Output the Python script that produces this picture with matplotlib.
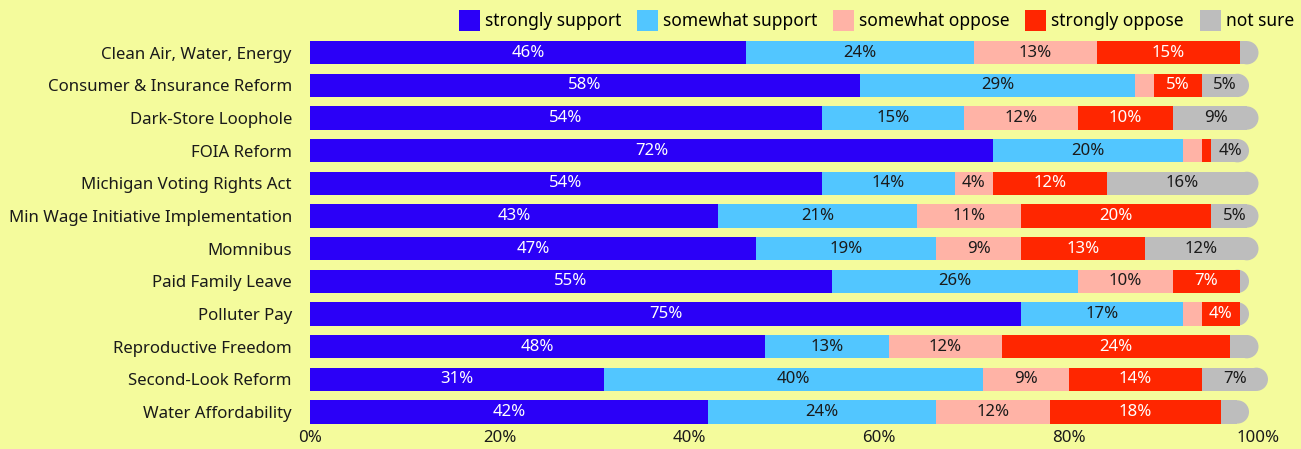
import numpy as np
import matplotlib
matplotlib.use('Agg')
import matplotlib.pyplot as plt
from matplotlib.patches import Ellipse

# ==============================================================================
# Support / opposition by policy, horizontal 100% stacked bars
# ==============================================================================

CATEGORIES = [
    'Clean Air, Water, Energy', 'Consumer & Insurance Reform', 'Dark-Store Loophole',
    'FOIA Reform', 'Michigan Voting Rights Act', 'Min Wage Initiative Implementation',
    'Momnibus', 'Paid Family Leave', 'Polluter Pay', 'Reproductive Freedom',
    'Second-Look Reform', 'Water Affordability',
]
SERIES = ['strongly support', 'somewhat support', 'somewhat oppose', 'strongly oppose', 'not sure']

STRONG_SUPPORT = [46, 58, 54, 72, 54, 43, 47, 55, 75, 48, 31, 42]
SOME_SUPPORT   = [24, 29, 15, 20, 14, 21, 19, 26, 17, 13, 40, 24]
SOME_OPPOSE    = [13,  2, 12,  2,  4, 11,  9, 10,  2, 12,  9, 12]
STRONG_OPPOSE  = [15,  5, 10,  1, 12, 20, 13,  7,  4, 24, 14, 18]
NOT_SURE       = [ 2,  5,  9,  4, 16,  5, 12,  1,  1,  3,  7,  3]

XTICKS = [0, 20, 40, 60, 80, 100]

COLORS = ['#2b00f7', '#52c6ff', '#ffb3a6', '#ff2600', '#bdbdbd']
TEXT_COLORS = ['white', '#1a1a1a', '#1a1a1a', 'white', '#1a1a1a']
BG = '#f4fb9c'
FONT = 'Noto Sans'
FS = 12.1

plt.rcParams['font.family'] = [FONT, 'DejaVu Sans']


def main():
    W, H, DPI = 1301, 449, 100
    fig = plt.figure(figsize=(W / DPI, H / DPI), dpi=DPI, facecolor=BG)
    ax_l, ax_r, ax_t, ax_b = 310, 1258.5, 36.4, 428.3
    ax = fig.add_axes([ax_l / W, 1 - ax_b / H, (ax_r - ax_l) / W, (ax_b - ax_t) / H])
    ax.set_facecolor(BG)

    data = np.array([STRONG_SUPPORT, SOME_SUPPORT, SOME_OPPOSE, STRONG_OPPOSE, NOT_SURE], dtype=float)
    y = np.arange(len(CATEGORIES))
    bar_h = 0.713
    left = np.zeros(len(CATEGORIES))

    # rounded right end: radius = half the bar height, converted to x units
    px_per_x = (ax_r - ax_l) / 100.0
    px_per_y = (ax_b - ax_t) / len(CATEGORIES)
    r_x = bar_h * px_per_y / 2 / px_per_x

    last = len(SERIES) - 1
    handles = []
    for k, name in enumerate(SERIES):
        vals = data[k]
        if k == last:
            widths = np.clip(vals - r_x, 0, None)
            z = 1.5
        else:
            widths = vals
            z = 2
        bars = ax.barh(y, widths, left=left, height=bar_h, color=COLORS[k],
                       edgecolor='none', label=name, zorder=z)
        for b in bars:
            b.set_clip_on(False)
        handles.append(bars)
        for i, v in enumerate(vals):
            if k == last:
                ax.add_patch(Ellipse((left[i] + v - r_x, y[i]), 2 * r_x, bar_h,
                                     facecolor=COLORS[k], edgecolor='none', zorder=1.5,
                                     clip_on=False))
            if v >= 4:
                ax.text(left[i] + v / 2, y[i], f'{int(v)}%', ha='center', va='center',
                        color=TEXT_COLORS[k], fontsize=FS, zorder=3)
        left = left + vals

    ax.set_xlim(0, 100)
    ax.set_ylim(len(CATEGORIES) - 0.5, -0.5)
    ax.set_yticks(y)
    ax.set_yticklabels(CATEGORIES, fontsize=FS, color='#1a1a1a')
    ax.set_xticks(XTICKS)
    ax.set_xticklabels([f'{t}%' for t in XTICKS], fontsize=FS, color='#1a1a1a')
    ax.tick_params(axis='both', length=0)
    ax.tick_params(axis='y', pad=13)
    ax.tick_params(axis='x', pad=1.5)
    for s in ax.spines.values():
        s.set_visible(False)

    fig.legend(handles=handles, labels=SERIES, ncol=5, loc='upper right',
               bbox_to_anchor=(1294 / W, 1 - 10 / H), frameon=False, fontsize=12.5,
               handlelength=1.2, handleheight=1.45, handletextpad=0.3,
               columnspacing=0.9, borderaxespad=0, borderpad=0)

    fig.savefig('out.png', dpi=DPI, facecolor=BG)


if __name__ == '__main__':
    main()
